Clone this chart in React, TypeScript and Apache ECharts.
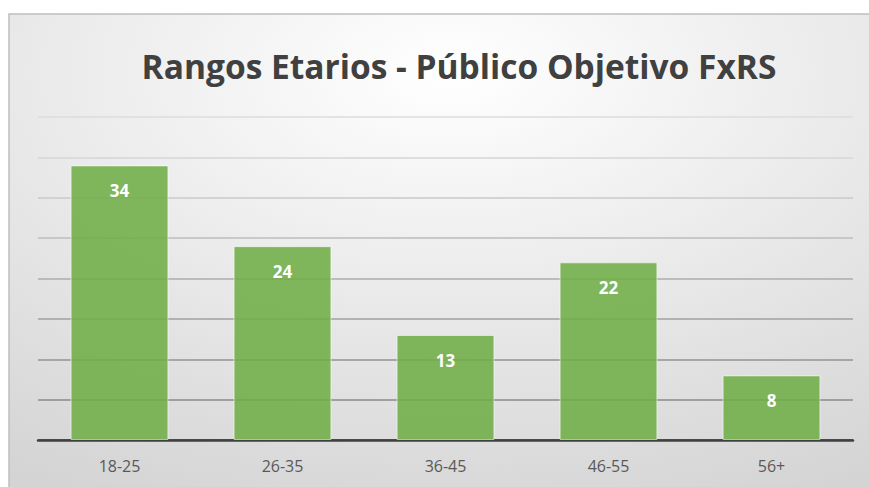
import React, { useEffect, useRef } from "react";
import * as echarts from "echarts";

const categories = ["18-25", "26-35", "36-45", "46-55", "56+"];
const values = [34, 24, 13, 22, 8];
const titleText = "Rangos Etarios - Público Objetivo FxRS";

export default function App() {
  const ref = useRef<HTMLDivElement>(null);
  useEffect(() => {
    if (!ref.current) return;
    const chart = echarts.init(ref.current, null, { renderer: "svg" });
    chart.setOption({
      animation: false,
      backgroundColor: "#ffffff",
      graphic: [
        {
          type: "rect",
          z: -10,
          silent: true,
          shape: { x: 9, y: 14, width: 880, height: 490 },
          style: {
            fill: {
              type: "radial",
              x: 0.5,
              y: 0.12,
              r: 0.95,
              colorStops: [
                { offset: 0, color: "#ffffff" },
                { offset: 1, color: "#d4d4d4" },
              ],
            },
            stroke: "#bfbfbf",
            lineWidth: 1.5,
          },
        },
      ],
      title: {
        text: titleText,
        left: 454,
        top: 44,
        textAlign: "center",
        textStyle: {
          fontFamily: "Open Sans",
          fontWeight: "bold",
          fontSize: 33.5,
          color: "#404040",
        },
      },
      grid: { left: 38, right: 16, top: 117, bottom: 47, containLabel: false },
      xAxis: {
        type: "category",
        data: categories,
        axisLine: { lineStyle: { color: "#404040", width: 2.5 } },
        axisTick: { show: false },
        axisLabel: {
          color: "#595959",
          fontFamily: "Open Sans",
          fontSize: 16,
          margin: 18,
        },
      },
      yAxis: {
        type: "value",
        min: 0,
        max: 40,
        interval: 5,
        axisLabel: { show: false },
        axisLine: { show: false },
        axisTick: { show: false },
        splitLine: {
          lineStyle: {
            width: 1.5,
            color: [
              "#404040",
              "#8a8a8a",
              "#939393",
              "#a0a0a0",
              "#adadad",
              "#bcbcbc",
              "#cacaca",
              "#d6d6d6",
              "#dcdcdc",
            ],
          },
        },
      },
      series: [
        {
          type: "bar",
          data: values,
          barWidth: "60%",
          itemStyle: {
            color: "rgba(112,173,71,0.88)",
            borderColor: "rgba(255,255,255,0.55)",
            borderWidth: 1,
          },
          label: {
            show: true,
            position: "insideTop",
            distance: 17,
            color: "#ffffff",
            fontWeight: "bold",
            fontFamily: "Open Sans",
            fontSize: 17,
          },
          z: 3,
        },
      ],
    });
    return () => chart.dispose();
  }, []);
  return (
    <div
      ref={ref}
      style={{ position: "fixed", left: 0, top: 0, width: 869, height: 487 }}
    />
  );
}
